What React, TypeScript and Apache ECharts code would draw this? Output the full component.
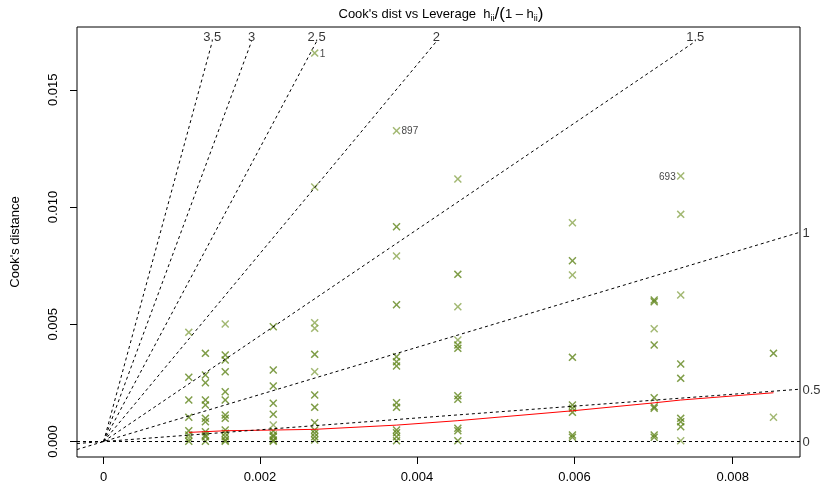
import React, { useEffect, useRef } from "react";
import * as echarts from "echarts";

// Axis tick labels: leverage h_ii, drawn at h/(1-h)
const hatTickValues = [0, 0.002, 0.004, 0.006, 0.008];
const yTickValues = [0, 0.005, 0.01, 0.015];
const xRange = [-0.000341, 0.008927];
const yRange = [-0.00066, 0.01768];

// Distinct leverage values h/(1-h) of the observation groups
const leverage = [
  0.001092, 0.001305, 0.001559, 0.002175, 0.002706, 0.003755, 0.004541,
  0.00601, 0.007058, 0.007398, 0.008587,
];

// Cook's distances in each group: [cook, number of coinciding observations]
const cookByGroup: [number, number][][] = [
  [[0.004657, 1], [0.002738, 2], [0.00177, 2], [0.001032, 2], [0.000461, 2], [0.000277, 2], [0.000136, 1], [0.00001, 2]],
  [[0.003761, 2], [0.002836, 2], [0.002507, 2], [0.00177, 2], [0.001557, 2], [0.000989, 2], [0.000844, 2], [0.000418, 2], [0.000277, 2], [0.000205, 2], [0.00001, 2]],
  [[0.005011, 1], [0.003689, 2], [0.003475, 2], [0.002977, 2], [0.002124, 2], [0.00177, 2], [0.00113, 2], [0.000989, 2], [0.00049, 2], [0.00035, 2], [0.000205, 2], [0.000064, 2], [0.00001, 2]],
  [[0.004896, 2], [0.003049, 2], [0.002367, 2], [0.001629, 2], [0.00116, 2], [0.000704, 1], [0.000448, 2], [0.000277, 2], [0.000205, 2], [0.000064, 2], [0.00001, 2]],
  [[0.010853, 1], [0.005066, 1], [0.004827, 1], [0.003718, 2], [0.002977, 1], [0.001983, 2], [0.001458, 2], [0.000802, 2], [0.00049, 2], [0.00035, 2], [0.000205, 2], [0.000064, 2]],
  [[0.00916, 2], [0.00791, 1], [0.005834, 2], [0.003616, 2], [0.003403, 2], [0.00322, 2], [0.001655, 2], [0.001458, 2], [0.00049, 2], [0.000375, 2], [0.000205, 2], [0.000034, 2]],
  [[0.011194, 1], [0.00713, 2], [0.005748, 1], [0.004328, 1], [0.004115, 2], [0.003974, 2], [0.001953, 2], [0.0018, 2], [0.000563, 2], [0.000461, 2], [0.000034, 2]],
  [[0.00933, 1], [0.00771, 2], [0.0071, 1], [0.00359, 2], [0.001557, 2], [0.001416, 2], [0.001245, 2], [0.000277, 2], [0.000179, 2]],
  [[0.006034, 2], [0.005962, 2], [0.00481, 1], [0.004115, 2], [0.001868, 2], [0.001484, 2], [0.001416, 2], [0.000277, 2], [0.000179, 2]],
  [[0.009689, 1], [0.006247, 1], [0.003305, 2], [0.002695, 2], [0.000989, 2], [0.000844, 2], [0.000631, 2], [0.000034, 1]],
  [[0.003761, 2], [0.001032, 1]],
];

// Observations identified by number
const namedPoints = [
  { name: "1", g: 0.002706, cook: 0.016567, side: "right" },
  { name: "897", g: 0.003755, cook: 0.013254, side: "right" },
  { name: "693", g: 0.007398, cook: 0.011322, side: "left" },
];

// Smoothed (lowess) Cook's distance at each group leverage
const smoothCook = [
  0.00039, 0.00042, 0.00046, 0.00049, 0.00052, 0.0007, 0.00089, 0.00131,
  0.00165, 0.00177, 0.00208,
];

// Contour levels sqrt(p * D / g)
const contourLevels = [0, 0.5, 1, 1.5, 2, 2.5, 3, 3.5];
const contourTopCook = 0.017066;

const FONT = "'Liberation Sans', Arial, Helvetica, sans-serif";
const X_PATH =
  "path://M0,1.3 L1.3,0 L5,3.7 L8.7,0 L10,1.3 L6.3,5 L10,8.7 L8.7,10 L5,6.3 L1.3,10 L0,8.7 L3.7,5 Z";

export default function App() {
  const ref = useRef<HTMLDivElement>(null);

  useEffect(() => {
    if (!ref.current) return;
    const chart = echarts.init(ref.current, undefined, { renderer: "svg" });

    const hatTickPos = hatTickValues.map((h) => h / (1 - h));
    const hatLabel = (v: number) => {
      let best = 0;
      hatTickPos.forEach((p, i) => {
        if (Math.abs(p - v) < Math.abs(hatTickPos[best] - v)) best = i;
      });
      return String(hatTickValues[best]);
    };

    const pointData: [number, number, number][] = [];
    cookByGroup.forEach((grp, i) => {
      grp.forEach(([c, n]) => pointData.push([leverage[i], c, n]));
    });

    const contourLines: any[] = [];
    const contourLabels: any[] = [];
    contourLevels.forEach((b) => {
      const s = b * b;
      const toRight = yRange[1] > s * xRange[1];
      let line: number[][];
      if (toRight) {
        line = [
          [xRange[0], s * xRange[0]],
          [xRange[1], s * xRange[1]],
        ];
        contourLabels.push({
          value: [xRange[1], s * xRange[1]],
          label: { position: "right", distance: 2, formatter: String(b) },
        });
      } else {
        line = [
          [0, 0],
          [contourTopCook / s, contourTopCook],
        ];
        contourLabels.push({
          value: [contourTopCook / s, contourTopCook],
          label: { position: "top", distance: 0, offset: [0, 2], formatter: String(b) },
        });
      }
      contourLines.push({
        type: "line",
        data: line,
        symbol: "none",
        showSymbol: false,
        clip: false,
        silent: true,
        lineStyle: { color: "#000", width: 1, type: [3, 3] },
        z: 4,
      });
    });

    const txt = { fontFamily: FONT, fontWeight: "normal", color: "#000" };

    const option: any = {
      animation: false,
      title: {
        text:
          "{a|Cook's dist vs Leverage  h}{b|ii}{p|/(}{a|1 – h}{b|ii}{p|)}",
        left: 436,
        top: -2,
        textAlign: "center",
        textStyle: {
          fontWeight: "normal",
          rich: {
            a: { ...txt, fontSize: 13, lineHeight: 20, verticalAlign: "middle" },
            b: { ...txt, fontSize: 9, lineHeight: 20, padding: [9, 0, 0, 0], verticalAlign: "middle" },
            p: { ...txt, fontSize: 17, lineHeight: 20, verticalAlign: "middle" },
          },
        },
      },
      grid: {
        left: 72.5,
        right: 21,
        top: 27,
        bottom: 32,
        show: true,
        borderColor: "#000",
        borderWidth: 1,
        backgroundColor: "transparent",
      },
      xAxis: {
        type: "value",
        min: xRange[0],
        max: xRange[1],
        splitLine: { show: false },
        axisLine: { show: false, onZero: false },
        axisTick: {
          show: true,
          length: 7,
          customValues: hatTickPos,
          lineStyle: { color: "#000" },
        },
        axisLabel: {
          customValues: hatTickPos,
          formatter: (v: number) => hatLabel(v),
          color: "#000",
          fontSize: 13,
          fontFamily: FONT,
          margin: 13,
        },
      },
      yAxis: {
        type: "value",
        min: yRange[0],
        max: yRange[1],
        name: "Cook's distance",
        nameLocation: "middle",
        nameGap: 56,
        nameRotate: 90,
        nameTextStyle: { color: "#000", fontSize: 13, fontFamily: FONT },
        splitLine: { show: false },
        axisLine: { show: false, onZero: false },
        axisTick: {
          show: true,
          length: 7,
          customValues: yTickValues,
          lineStyle: { color: "#000" },
        },
        axisLabel: {
          customValues: yTickValues,
          formatter: (v: number) => v.toFixed(3),
          rotate: 90,
          color: "#000",
          fontSize: 13,
          fontFamily: FONT,
          margin: 18,
        },
      },
      series: [
        {
          type: "scatter",
          data: pointData,
          symbol: X_PATH,
          symbolSize: 8,
          silent: true,
          itemStyle: {
            color: (p: any) => (p.data[2] > 1 ? "#5f841a" : "#8ba64f"),
          },
          z: 2,
        },
        {
          type: "scatter",
          data: namedPoints.map((d) => ({
            value: [d.g, d.cook],
            name: d.name,
            label: {
              show: true,
              position: d.side,
              distance: 1,
              formatter: d.name,
              color: "#111",
              fontSize: 10,
              fontFamily: FONT,
            },
          })),
          symbol: X_PATH,
          symbolSize: 8,
          silent: true,
          itemStyle: { color: "#8ba64f" },
          z: 2,
        },
        {
          type: "line",
          data: leverage.map((g, i) => [g, smoothCook[i]]),
          symbol: "none",
          showSymbol: false,
          silent: true,
          lineStyle: { color: "#ff0000", width: 1 },
          z: 3,
        },
        ...contourLines,
        {
          type: "scatter",
          data: contourLabels,
          symbol: "circle",
          symbolSize: 1,
          silent: true,
          itemStyle: { color: "rgba(0,0,0,0)" },
          label: { show: true, color: "#000", fontSize: 13, fontFamily: FONT },
          z: 5,
        },
      ],
    };

    chart.setOption(option);
    return () => chart.dispose();
  }, []);

  return (
    <div
      ref={ref}
      style={{ position: "fixed", left: 0, top: 0, width: 821, height: 489 }}
    />
  );
}
